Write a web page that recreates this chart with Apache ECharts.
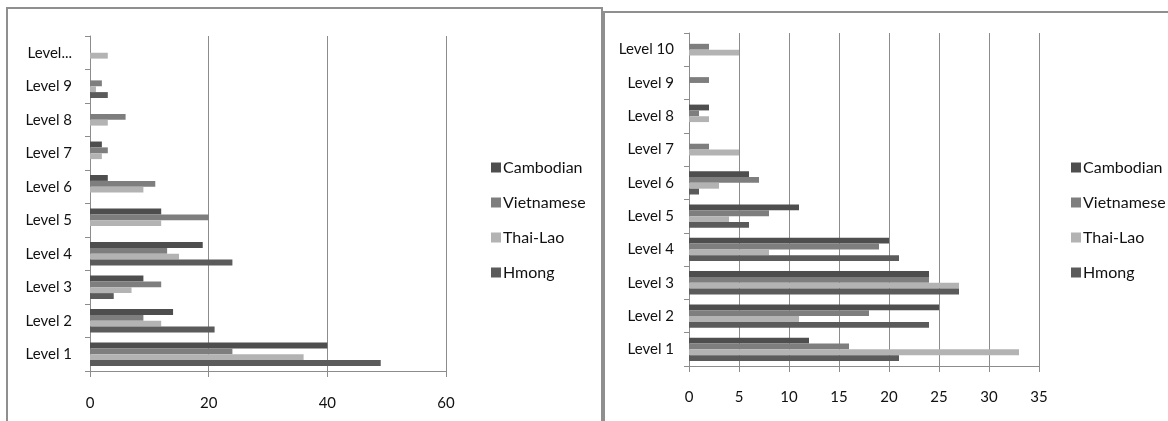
<!DOCTYPE html>
<html>
<head>
<meta charset="utf-8">
<script src="https://cdn.jsdelivr.net/npm/echarts@6/dist/echarts.min.js"></script>
<style>
  html, body { margin: 0; padding: 0; background: #fff; }
  #chart { width: 1168px; height: 421px; }
</style>
</head>
<body>
<div id="chart"></div>
<script>
// Categories (bottom to top) and group names
const levels = ['Level 1', 'Level 2', 'Level 3', 'Level 4', 'Level 5',
                'Level 6', 'Level 7', 'Level 8', 'Level 9', 'Level 10'];
const groups = ['Cambodian', 'Vietnamese', 'Thai-Lao', 'Hmong'];

// Left panel values, per level 1..10
const leftCambodian  = [40, 14, 9, 19, 12, 3, 2, 0, 0, 0];
const leftVietnamese = [24, 9, 12, 13, 20, 11, 3, 6, 2, 0];
const leftThaiLao    = [36, 12, 7, 15, 12, 9, 2, 3, 1, 3];
const leftHmong      = [49, 21, 4, 24, 0, 0, 0, 0, 3, 0];

// Right panel values, per level 1..10
const rightCambodian  = [12, 25, 24, 20, 11, 6, 0, 2, 0, 0];
const rightVietnamese = [16, 18, 24, 19, 8, 7, 2, 1, 2, 2];
const rightThaiLao    = [33, 11, 27, 8, 4, 3, 5, 2, 0, 5];
const rightHmong      = [21, 24, 27, 21, 6, 1, 0, 0, 0, 0];

// Value-axis tick settings
const leftMax = 60, leftStep = 20;
const rightMax = 35, rightStep = 5;

const colors = ['#4e4e4e', '#7e7e7e', '#b3b3b3', '#5b5b5b'];
const FONT = 'Lato, "Liberation Sans", sans-serif';
const gridColor = '#8c8c8c';
const textColor = '#111111';

function valueAxis(gridIndex, max, step, margin) {
  return {
    type: 'value', gridIndex, min: 0, max, interval: step,
    axisLine: { show: true, lineStyle: { color: gridColor } },
    axisTick: { show: true, length: 6, lineStyle: { color: gridColor } },
    splitLine: { show: true, lineStyle: { color: gridColor, width: 1 } },
    axisLabel: { color: textColor, fontFamily: FONT, fontSize: 15, margin }
  };
}
// The left panel's narrow label column cuts long names short
function categoryAxis(gridIndex, margin, shorten) {
  return {
    type: 'category', gridIndex, data: levels,
    axisLine: { show: true, lineStyle: { color: gridColor } },
    axisTick: { show: true, length: 5, lineStyle: { color: gridColor } },
    axisLabel: {
      color: textColor, fontFamily: FONT, fontSize: 15, margin,
      formatter: v => (shorten && v.length > 7) ? v.slice(0, 5) + '...' : v
    }
  };
}
function barSeries(name, data, idx, color) {
  return {
    type: 'bar', name, data, xAxisIndex: idx, yAxisIndex: idx,
    barGap: '0%', barCategoryGap: '30%',
    itemStyle: { color }, silent: true, animation: false
  };
}

const leftData = [leftCambodian, leftVietnamese, leftThaiLao, leftHmong];
const rightData = [rightCambodian, rightVietnamese, rightThaiLao, rightHmong];

const series = [];
groups.forEach((g, i) => series.push(barSeries(g, leftData[i], 0, colors[i])));
groups.forEach((g, i) => series.push(barSeries(g, rightData[i], 1, colors[i])));

function legend(left, top) {
  return {
    orient: 'vertical', left, top, data: groups, padding: 0,
    icon: 'rect', itemWidth: 10, itemHeight: 10, itemGap: 18,
    textStyle: { color: textColor, fontFamily: FONT, fontSize: 16, lineHeight: 17,
                 padding: [0, 0, 0, -3] },
    selectedMode: false
  };
}

const chart = echarts.init(document.getElementById('chart'), null, { renderer: 'canvas' });
chart.setOption({
  animation: false,
  color: colors,
  grid: [
    { left: 90, top: 36, width: 356, height: 335, containLabel: false },
    { left: 689, top: 33, width: 350, height: 333, containLabel: false }
  ],
  xAxis: [valueAxis(0, leftMax, leftStep, 25), valueAxis(1, rightMax, rightStep, 24)],
  yAxis: [categoryAxis(0, 18, true), categoryAxis(1, 15, false)],
  legend: [legend(491, 159), legend(1071, 159)],
  series,
  graphic: [
    { type: 'rect', shape: { x: 7, y: 8, width: 595, height: 430 },
      style: { fill: 'none', stroke: '#8f8f8f', lineWidth: 2 }, silent: true },
    { type: 'rect', shape: { x: 604, y: 12, width: 600, height: 430 },
      style: { fill: 'none', stroke: '#8f8f8f', lineWidth: 2 }, silent: true }
  ]
});
</script>
</body>
</html>
